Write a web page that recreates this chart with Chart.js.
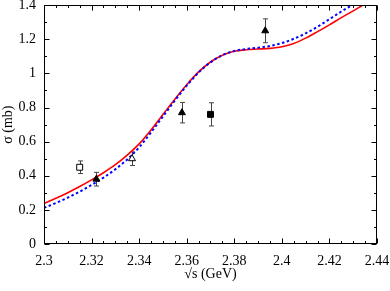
<!DOCTYPE html>
<html>
<head>
<meta charset="utf-8">
<script src="https://cdn.jsdelivr.net/npm/chart.js@4.4.1/dist/chart.umd.min.js"></script>
<style>
html,body{margin:0;padding:0;background:#fff;}
#wrap{width:390px;height:291px;position:relative;}
</style>
</head>
<body>
<div id="wrap"><canvas id="c" width="390" height="291"></canvas></div>
<script>
// ---- data ----
const energies  = [2.300,2.305,2.310,2.315,2.320,2.325,2.330,2.335,2.340,2.345,2.350,2.355,2.360,2.365,2.370,2.375,2.380,2.385,2.390,2.395,2.400,2.405,2.410,2.415,2.420,2.425,2.430,2.435,2.440];
const sigmaRed  = [0.238,0.268,0.301,0.337,0.376,0.418,0.465,0.521,0.587,0.669,0.759,0.849,0.934,1.009,1.067,1.107,1.130,1.139,1.143,1.147,1.156,1.175,1.207,1.245,1.285,1.327,1.367,1.408,1.450];
const sigmaBlue = [0.212,0.240,0.272,0.307,0.346,0.389,0.438,0.496,0.567,0.654,0.748,0.841,0.928,1.005,1.065,1.107,1.132,1.143,1.151,1.161,1.178,1.203,1.235,1.274,1.318,1.363,1.405,1.448,1.490];

const openSqX  = [2.315], openSqY  = [0.45], openSqErr  = [0.037];
const filledTriX = [2.322, 2.358, 2.393], filledTriY = [0.38, 0.77, 1.25], filledTriErr = [0.04, 0.06, 0.07];
const openTriX = [2.337], openTriY = [0.50], openTriErr = [0.04];
const filledSqX = [2.370], filledSqY = [0.76], filledSqErr = [0.068];

const xTickValues = [2.30,2.32,2.34,2.36,2.38,2.40,2.42,2.44];
const xTickLabels = ['2.3','2.32','2.34','2.36','2.38','2.4','2.42','2.44'];
const yTickValues = [0,0.2,0.4,0.6,0.8,1.0,1.2,1.4];
const yTickLabels = ['0','0.2','0.4','0.6','0.8','1','1.2','1.4'];

const pts = (xs, ys) => xs.map((x, i) => ({x: x, y: ys[i]}));

const FONT = "'Liberation Serif', 'DejaVu Serif', serif";

// error bars, frame and inward ticks
const decor = {
  id: 'decor',
  beforeDatasetsDraw(chart) {
    const ctx = chart.ctx, xs = chart.scales.x, ys = chart.scales.y;
    ctx.save();
    ctx.strokeStyle = '#444';
    ctx.lineWidth = 1;
    chart.data.datasets.forEach(ds => {
      if (!ds.yErr) return;
      ds.data.forEach((p, i) => {
        const e = ds.yErr[i];
        const px = Math.round(xs.getPixelForValue(p.x)) + 0.5;
        const y1 = ys.getPixelForValue(p.y - e), y2 = ys.getPixelForValue(p.y + e);
        ctx.beginPath();
        ctx.moveTo(px, y1); ctx.lineTo(px, y2);
        ctx.moveTo(px - 2.5, y1); ctx.lineTo(px + 2.5, y1);
        ctx.moveTo(px - 2.5, y2); ctx.lineTo(px + 2.5, y2);
        ctx.stroke();
      });
    });
    ctx.restore();
  },
  afterDraw(chart) {
    const ctx = chart.ctx, xs = chart.scales.x, ys = chart.scales.y;
    const a = chart.chartArea;
    const L = Math.round(a.left) + 0.5, R = Math.round(a.right) - 0.5;
    const T = Math.round(a.top) + 0.5, B = Math.round(a.bottom) - 0.5;
    ctx.save();
    ctx.strokeStyle = '#000';
    ctx.lineWidth = 1;
    ctx.strokeRect(L, T, R - L, B - T);
    ctx.beginPath();
    for (let k = 0; k <= 28; k++) {
      const v = 2.3 + k * 0.005;
      const px = Math.round(xs.getPixelForValue(v)) + 0.5;
      const len = (k % 4 === 0) ? 5 : 2.5;
      ctx.moveTo(px, B); ctx.lineTo(px, B - len);
      ctx.moveTo(px, T); ctx.lineTo(px, T + len);
    }
    for (let k = 0; k <= 14; k++) {
      const v = k * 0.1;
      const py = Math.round(ys.getPixelForValue(v)) + 0.5;
      const len = (k % 2 === 0) ? 5 : 2.5;
      ctx.moveTo(L, py); ctx.lineTo(L + len, py);
      ctx.moveTo(R, py); ctx.lineTo(R - len, py);
    }
    ctx.stroke();
    ctx.restore();
  }
};

new Chart(document.getElementById('c'), {
  type: 'scatter',
  data: {
    datasets: [
      { data: pts(openSqX, openSqY), yErr: openSqErr, pointStyle: 'rect', pointRadius: 4.2,
        backgroundColor: '#fff', borderColor: '#000', borderWidth: 1, order: 0 },
      { data: pts(filledTriX, filledTriY), yErr: filledTriErr, pointStyle: 'triangle', pointRadius: 4,
        backgroundColor: '#000', borderColor: '#000', borderWidth: 1, order: 0 },
      { data: pts(openTriX, openTriY), yErr: openTriErr, pointStyle: 'triangle', pointRadius: 4,
        backgroundColor: '#fff', borderColor: '#000', borderWidth: 1, order: 0 },
      { data: pts(filledSqX, filledSqY), yErr: filledSqErr, pointStyle: 'rect', pointRadius: 4.2,
        backgroundColor: '#000', borderColor: '#000', borderWidth: 1, order: 0 },
      { data: pts(energies, sigmaBlue), showLine: true, pointRadius: 0, borderColor: '#0000ff',
        borderWidth: 2, borderDash: [2.5, 2.5], cubicInterpolationMode: 'monotone', order: 1 },
      { data: pts(energies, sigmaRed), showLine: true, pointRadius: 0, borderColor: '#ff0000',
        borderWidth: 1.6, cubicInterpolationMode: 'monotone', order: 2 }
    ]
  },
  options: {
    responsive: false,
    animation: false,
    events: [],
    layout: { padding: { left: 0, right: 13, top: 5, bottom: 0 } },
    plugins: { legend: { display: false }, tooltip: { enabled: false } },
    scales: {
      x: {
        type: 'linear', min: 2.3, max: 2.44,
        grid: { display: false, drawTicks: false },
        border: { display: false },
        afterBuildTicks(s) { s.ticks = xTickValues.map(v => ({ value: v })); },
        afterFit(s) { s.height = 47; s.paddingLeft = 0; s.paddingRight = 0; },
        ticks: {
          padding: 9, color: '#000', maxRotation: 0, autoSkip: false,
          font: { family: FONT, size: 14 },
          callback: (v) => { const i = xTickValues.findIndex(t => Math.abs(t - v) < 1e-9); return i >= 0 ? xTickLabels[i] : ''; }
        },
        title: { display: true, text: '√s (GeV)', color: '#000',
                 font: { family: FONT, size: 14 }, padding: { top: 0, bottom: 8 } }
      },
      y: {
        type: 'linear', min: 0, max: 1.4,
        grid: { display: false, drawTicks: false },
        border: { display: false },
        afterBuildTicks(s) { s.ticks = yTickValues.map(v => ({ value: v })); },
        afterFit(s) { s.width = 44; s.paddingTop = 0; s.paddingBottom = 0; },
        ticks: {
          padding: 8, color: '#000', autoSkip: false,
          font: { family: FONT, size: 14 },
          callback: (v) => { const i = yTickValues.findIndex(t => Math.abs(t - v) < 1e-9); return i >= 0 ? yTickLabels[i] : ''; }
        },
        title: { display: true, text: 'σ (mb)', color: '#000',
                 font: { family: FONT, size: 14 }, padding: { top: 0, bottom: 0 } }
      }
    }
  },
  plugins: [decor]
});
</script>
</body>
</html>
